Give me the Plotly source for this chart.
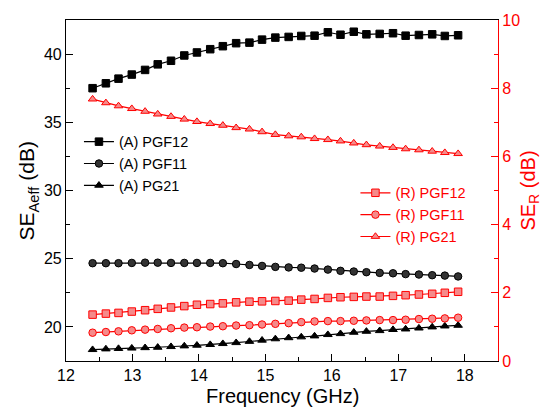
import plotly.graph_objects as go

freq = [12.40, 12.60, 12.79, 12.99, 13.19, 13.38, 13.58, 13.78, 13.97, 14.17,
        14.36, 14.56, 14.76, 14.95, 15.15, 15.35, 15.54, 15.74, 15.94, 16.13,
        16.33, 16.52, 16.72, 16.92, 17.11, 17.31, 17.51, 17.70, 17.90]

a_pgf12 = [37.50, 37.86, 38.20, 38.50, 38.84, 39.25, 39.51, 39.90, 40.12, 40.36,
           40.58, 40.80, 40.84, 41.06, 41.21, 41.26, 41.33, 41.35, 41.60, 41.42,
           41.64, 41.45, 41.48, 41.53, 41.35, 41.40, 41.45, 41.33, 41.38]
a_pgf11 = [24.67, 24.67, 24.67, 24.69, 24.71, 24.71, 24.69, 24.69, 24.69, 24.69,
           24.67, 24.61, 24.54, 24.47, 24.40, 24.36, 24.34, 24.28, 24.20, 24.11,
           24.06, 24.01, 23.96, 23.93, 23.87, 23.84, 23.79, 23.76, 23.70]
a_pg21 = [18.33, 18.38, 18.41, 18.44, 18.47, 18.50, 18.55, 18.60, 18.65, 18.70,
          18.77, 18.84, 18.93, 19.02, 19.12, 19.20, 19.26, 19.33, 19.43, 19.50,
          19.60, 19.67, 19.72, 19.80, 19.84, 19.91, 19.99, 20.06, 20.11]

r_pgf12 = [1.36, 1.39, 1.41, 1.45, 1.49, 1.53, 1.57, 1.61, 1.65, 1.67,
           1.69, 1.72, 1.74, 1.75, 1.76, 1.77, 1.80, 1.82, 1.85, 1.87,
           1.88, 1.89, 1.89, 1.91, 1.93, 1.95, 1.97, 2.00, 2.03]
r_pgf11 = [0.83, 0.85, 0.87, 0.90, 0.92, 0.94, 0.96, 0.98, 0.99, 1.01,
           1.02, 1.04, 1.05, 1.07, 1.09, 1.11, 1.14, 1.16, 1.17, 1.17,
           1.18, 1.19, 1.20, 1.20, 1.21, 1.23, 1.24, 1.25, 1.27]
r_pg21 = [7.68, 7.57, 7.48, 7.40, 7.32, 7.24, 7.17, 7.09, 7.02, 6.96,
          6.91, 6.84, 6.80, 6.72, 6.64, 6.60, 6.57, 6.52, 6.49, 6.45,
          6.39, 6.34, 6.30, 6.26, 6.22, 6.19, 6.15, 6.11, 6.08]

FONT = "Liberation Sans, Arial, sans-serif"
RED = "#ff0000"
fig = go.Figure()

def add(y, name, sym, fill, edge, axis, legend):
    fig.add_trace(go.Scatter(
        x=freq, y=y, name=name, mode="lines+markers", yaxis=axis, legend=legend,
        line=dict(color=edge, width=1.2),
        marker=dict(symbol=sym, size=7.5, color=fill, line=dict(color=edge, width=1))))

add(a_pgf12, "(A) PGF12", "square", "#000000", "#000000", "y", "legend")
add(a_pgf11, "(A) PGF11", "circle", "#333333", "#000000", "y", "legend")
add(a_pg21, "(A) PG21", "triangle-up", "#000000", "#000000", "y", "legend")
add(r_pgf12, "(R) PGF12", "square", "#f58a8a", RED, "y2", "legend2")
add(r_pgf11, "(R) PGF11", "circle", "#f58a8a", RED, "y2", "legend2")
add(r_pg21, "(R) PG21", "triangle-up", "#f58a8a", RED, "y2", "legend2")

fig.update_layout(
    width=543, height=409,
    margin=dict(l=66, r=45, t=17, b=48),
    paper_bgcolor="white", plot_bgcolor="white",
    font=dict(family=FONT, size=16, color="#000000"),
    xaxis=dict(range=[12, 18.5], dtick=1, tick0=12, showgrid=False, zeroline=False,
               showline=True, linecolor="#000000", linewidth=1.2, mirror=True,
               ticks="inside", ticklen=7, tickcolor="#000000",
               minor=dict(ticks="inside", ticklen=4, dtick=0.5, tickcolor="#000000"),
               tickfont=dict(size=16)),
    yaxis=dict(range=[17.5, 42.5], dtick=5, tick0=20, showgrid=False, zeroline=False,
               showline=True, linecolor="#000000", linewidth=1.2,
               ticks="inside", ticklen=7, tickcolor="#000000",
               minor=dict(ticks="inside", ticklen=4, dtick=2.5, tickcolor="#000000"),
               tickfont=dict(size=16)),
    yaxis2=dict(range=[0, 10], dtick=2, overlaying="y", side="right",
                showgrid=False, zeroline=False,
                showline=True, linecolor=RED, linewidth=1.2,
                ticks="inside", ticklen=7, tickcolor=RED,
                minor=dict(ticks="inside", ticklen=4, dtick=1, tickcolor=RED),
                tickfont=dict(size=16, color=RED)),
    legend=dict(x=0.03, y=0.69, xanchor="left", yanchor="top",
                bgcolor="rgba(0,0,0,0)", font=dict(size=14.5, color="#000000"),
                itemwidth=30, tracegroupgap=0),
    legend2=dict(x=0.67, y=0.54, xanchor="left", yanchor="top",
                 bgcolor="rgba(0,0,0,0)", font=dict(size=14.5, color=RED),
                 itemwidth=30, tracegroupgap=0),
    annotations=[
        dict(text="Frequency (GHz)", xref="paper", yref="paper",
             x=0.5, y=-0.102, xanchor="center", yanchor="middle",
             showarrow=False, font=dict(size=20, color="#000000")),
        dict(text="SE<sub>Aeff</sub> (dB)", xref="paper", yref="paper",
             x=-0.088, y=0.5, xanchor="center", yanchor="middle", textangle=-90,
             showarrow=False, font=dict(size=21, color="#000000")),
        dict(text="SE<sub>R</sub> (dB)", xref="paper", yref="paper",
             x=1.072, y=0.5, xanchor="center", yanchor="middle", textangle=-90,
             showarrow=False, font=dict(size=20, color=RED)),
    ],
)

fig.write_html("out.html", config={"displayModeBar": False},
               post_script="document.body.style.margin='0px';document.body.style.overflow='hidden';")
